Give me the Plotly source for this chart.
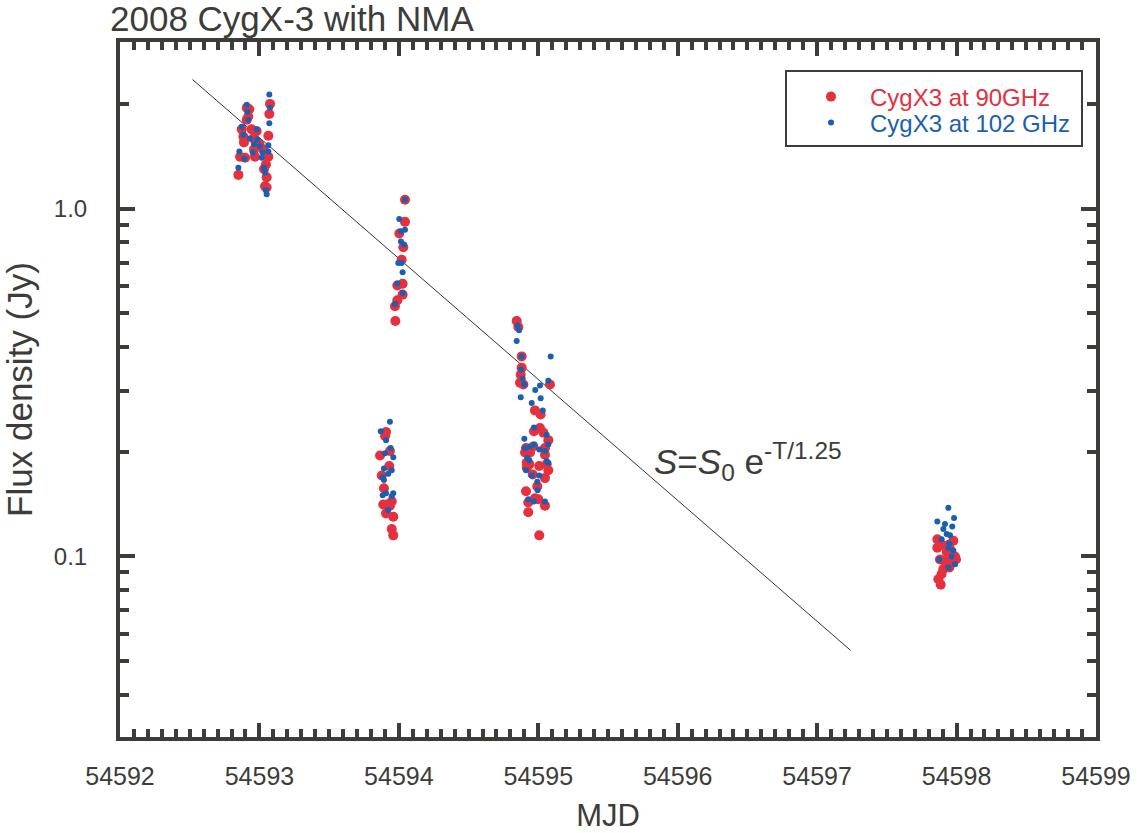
import plotly.graph_objects as go

# ---------------- data ----------------
mjd_90 = [
    54592.909, 54592.920, 54592.873, 54592.885, 54592.861, 54592.849, 54592.897, 54592.980,
    54592.956, 54593.000, 54593.028, 54593.064, 54593.047, 54593.033, 54593.052, 54593.040,
    54593.052, 54593.076, 54593.071, 54593.064, 54592.909, 54592.944, 54592.961, 54592.968,
    54592.889, 54592.927,
    54594.044, 54594.044, 54594.003, 54594.032, 54594.020, 54594.027, 54593.989, 54594.027,
    54593.989, 54593.972, 54593.975,
    54593.908, 54593.901, 54593.865, 54593.936, 54593.931, 54593.877, 54593.893, 54593.888,
    54593.917, 54593.949, 54593.908, 54593.960, 54593.949, 54593.960, 54593.936,
    54594.845, 54594.857, 54594.881, 54594.881, 54594.874, 54594.869, 54594.893, 54595.084,
    54594.976, 54595.017, 54595.012, 54594.969, 54595.036, 54595.072, 54594.912, 54594.964,
    54595.048, 54594.905, 54594.941, 54595.048, 54594.917, 54595.060, 54595.007, 54594.936,
    54594.917, 54595.072, 54594.960, 54595.048, 54594.993, 54594.912, 54594.976, 54594.928,
    54595.048, 54594.928, 54595.007, 54595.000,
    54597.862, 54597.862, 54597.893, 54597.977, 54597.953, 54597.989, 54597.881, 54597.917,
    54597.953, 54597.996, 54597.905, 54597.948, 54597.893, 54597.869, 54597.886, 54597.929,
    54597.945,
]
flux_90 = [
    1.95, 1.84, 1.69, 1.61, 1.41, 1.25, 1.40, 1.67,
    1.59, 1.53, 1.48, 1.41, 1.34, 1.30, 1.23, 1.16,
    1.15, 2.00, 1.87, 1.62, 1.80, 1.69, 1.48, 1.41,
    1.55, 1.93,
    1.06, 0.916, 0.848, 0.774, 0.713, 0.608, 0.601, 0.566,
    0.545, 0.524, 0.475,
    0.228, 0.222, 0.195, 0.201, 0.182, 0.171, 0.157, 0.141,
    0.141, 0.144, 0.133, 0.130, 0.120, 0.115, 0.140,
    0.475, 0.457, 0.376, 0.349, 0.333, 0.316, 0.312, 0.312,
    0.263, 0.256, 0.234, 0.229, 0.227, 0.216, 0.205, 0.207,
    0.205, 0.199, 0.199, 0.196, 0.186, 0.184, 0.182, 0.184,
    0.180, 0.177, 0.172, 0.168, 0.159, 0.154, 0.147, 0.143,
    0.140, 0.134, 0.115, 0.146,
    0.112, 0.106, 0.108, 0.111, 0.105, 0.100, 0.098, 0.097,
    0.097, 0.098, 0.092, 0.093, 0.089, 0.086, 0.083, 0.103,
    0.108,
]

mjd_102 = [
    54592.909, 54592.913, 54592.920, 54592.873, 54592.885, 54592.856, 54592.849, 54592.892,
    54592.980, 54592.961, 54592.952, 54593.004, 54593.023, 54593.016, 54593.033, 54593.040,
    54593.045, 54593.052, 54593.071, 54593.076, 54593.071, 54593.064, 54593.064, 54592.932,
    54592.985,
    54594.044, 54594.003, 54594.013, 54594.044, 54594.015, 54594.037, 54593.996, 54594.020,
    54594.027, 54593.989, 54594.027, 54593.972,
    54593.936, 54593.870, 54593.908, 54593.941, 54593.901, 54593.960, 54593.893, 54593.949,
    54593.924, 54593.884, 54593.893, 54593.960, 54593.908, 54593.884, 54593.949, 54593.924,
    54594.852, 54594.862, 54594.845, 54594.881, 54595.089, 54594.876, 54594.888, 54594.900,
    54595.072, 54595.012, 54594.978, 54595.017, 54594.874, 54594.953, 54595.032, 54594.969,
    54595.060, 54594.900, 54595.072, 54594.905, 54594.941, 54594.972, 54595.007, 54595.048,
    54594.921, 54594.936, 54595.060, 54595.072, 54594.912, 54594.953, 54595.007, 54594.993,
    54594.995, 54594.928, 54594.969, 54595.048,
    54597.941, 54597.982, 54597.862, 54597.917, 54597.969, 54597.905, 54597.929, 54597.953,
    54597.893, 54597.948, 54597.941, 54597.977, 54597.965, 54597.876, 54597.941, 54597.989,
]
flux_102 = [
    1.99, 1.90, 1.80, 1.72, 1.63, 1.46, 1.31, 1.39,
    1.69, 1.53, 1.45, 1.51, 1.45, 1.40, 1.31, 1.27,
    1.13, 1.10, 2.13, 1.95, 1.76, 1.52, 1.46, 1.59,
    1.58,
    1.06, 0.934, 0.861, 0.870, 0.805, 0.788, 0.698, 0.698,
    0.656, 0.609, 0.573, 0.532,
    0.244, 0.229, 0.216, 0.205, 0.198, 0.193, 0.179, 0.177,
    0.173, 0.169, 0.166, 0.152, 0.152, 0.150, 0.149, 0.136,
    0.461, 0.447, 0.416, 0.376, 0.376, 0.345, 0.324, 0.312,
    0.320, 0.310, 0.301, 0.285, 0.287, 0.276, 0.263, 0.235,
    0.224, 0.218, 0.210, 0.205, 0.207, 0.210, 0.203, 0.201,
    0.192, 0.189, 0.188, 0.186, 0.177, 0.171, 0.171, 0.164,
    0.155, 0.146, 0.144, 0.144,
    0.138, 0.129, 0.126, 0.124, 0.122, 0.120, 0.116, 0.115,
    0.112, 0.109, 0.106, 0.104, 0.100, 0.098, 0.093, 0.095,
]

# decay line S = S0 exp(-T/1.25): end points
fit_mjd = [54592.52, 54597.24]
fit_flux = [2.35, 0.0537]

x_ticks = [54592, 54593, 54594, 54595, 54596, 54597, 54598, 54599]
y_ticks = [0.1, 1.0]
y_ticktext = ["0.1", "1.0"]
y_minor = [0.04, 0.05, 0.06, 0.07, 0.08, 0.09, 0.2, 0.3, 0.4, 0.5, 0.6, 0.7, 0.8, 0.9, 2.0, 3.0]

RED = "#e4303f"
BLUE = "#1b5fb0"
INK = "#3c3c39"
FONT = "Liberation Sans"

fig = go.Figure()
fig.add_trace(go.Scatter(
    x=fit_mjd, y=fit_flux, mode="lines",
    line=dict(color="#333333", width=1), showlegend=False, hoverinfo="skip"))
fig.add_trace(go.Scatter(
    x=mjd_90, y=flux_90, mode="markers", legend="legend",
    marker=dict(color=RED, size=10, line=dict(width=0)),
    name=f"<span style='color:{RED}'>CygX3 at 90GHz</span>"))
fig.add_trace(go.Scatter(
    x=mjd_102, y=flux_102, mode="markers", legend="legend2",
    marker=dict(color=BLUE, size=6, line=dict(width=0)),
    name=f"<span style='color:{BLUE}'>CygX3 at 102 GHz</span>"))

W, H = 1138, 833
L, R, T, B = 120, 42, 42, 96
pw, ph = W - L - R, H - T - B

def px(xp):
    return (xp - L) / pw

def py(yp):
    return (H - B - yp) / ph

leg_common = dict(xanchor="left", yanchor="middle", bgcolor="rgba(0,0,0,0)",
                  borderwidth=0, itemwidth=68, font=dict(size=24, family=FONT))

fig.update_layout(
    width=W, height=H,
    margin=dict(l=L, r=R, t=T, b=B, autoexpand=False),
    plot_bgcolor="white", paper_bgcolor="white",
    font=dict(family=FONT, color=INK),
    title=dict(text="2008 CygX-3 with NMA", font=dict(size=35, color=INK, family=FONT),
               xref="container", x=110 / W, xanchor="left",
               yref="container", y=1 - 19 / H, yanchor="middle"),
    showlegend=True,
    legend=dict(x=px(792), y=py(97), **leg_common),
    legend2=dict(x=px(792), y=py(123), **leg_common),
    shapes=[dict(type="rect", xref="paper", yref="paper",
                 x0=px(786), x1=px(1082), y0=py(146), y1=py(71),
                 line=dict(color=INK, width=2), fillcolor="rgba(0,0,0,0)")],
    annotations=[dict(text="<i>S</i>=<i>S</i><sub>0</sub> e<sup>-T/1.25</sup>",
                      xref="paper", yref="paper", x=px(652), y=py(461),
                      xanchor="left", yanchor="middle", showarrow=False,
                      font=dict(size=35, color=INK, family=FONT))],
)

fig.update_xaxes(
    range=[54592, 54599], tickvals=x_ticks, tickformat="d", automargin=False,
    showline=True, linecolor=INK, linewidth=4, mirror="ticks",
    ticks="inside", ticklen=14, tickwidth=3.5, tickcolor=INK,
    minor=dict(dtick=0.1, ticks="inside", ticklen=8, tickwidth=3.5, tickcolor=INK),
    showgrid=False, zeroline=False,
    tickfont=dict(size=25, color=INK, family=FONT), ticklabelstandoff=14,
    title=dict(text="MJD", font=dict(size=31, color=INK, family=FONT), standoff=21),
)
fig.update_yaxes(
    type="log", range=[-1.519, 0.479], automargin=False,
    tickvals=y_ticks, ticktext=y_ticktext,
    showline=True, linecolor=INK, linewidth=4, mirror="ticks",
    ticks="inside", ticklen=15, tickwidth=3.5, tickcolor=INK,
    minor=dict(tickvals=y_minor, ticks="inside", ticklen=9, tickwidth=3.5, tickcolor=INK),
    showgrid=False, zeroline=False,
    tickfont=dict(size=24, color=INK, family=FONT), ticklabelstandoff=24,
    title=dict(text="Flux density (Jy)", font=dict(size=35, color=INK, family=FONT), standoff=12),
)

fig.write_html("out.html")
